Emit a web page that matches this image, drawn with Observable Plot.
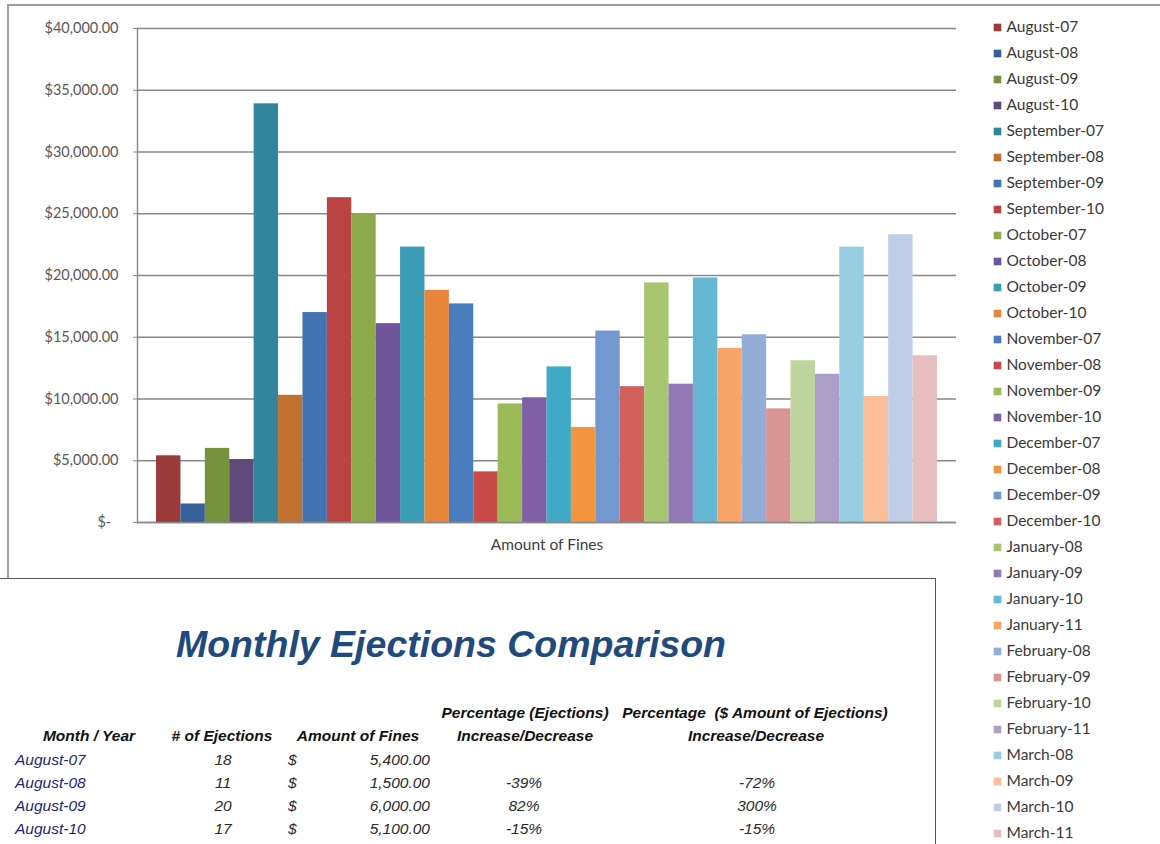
<!DOCTYPE html>
<html><head><meta charset="utf-8">
<script src="https://cdn.jsdelivr.net/npm/d3@7"></script>
<script src="https://cdn.jsdelivr.net/npm/@observablehq/plot@0.6"></script>
<style>
body{margin:0;background:#fff;}
#page{position:relative;width:1160px;height:844px;overflow:hidden;background:#fff;}
#frame{position:absolute;left:7px;top:4px;width:1200px;height:900px;border-left:2px solid #a0a0a0;border-top:2px solid #a0a0a0;box-sizing:border-box;}
#chart{position:absolute;left:0;top:0;}
#legend{position:absolute;left:960px;top:0;}
#table{position:absolute;left:0;top:578px;width:936px;height:300px;background:#fff;border-top:1.5px solid #555;border-right:1.5px solid #555;box-sizing:border-box;font-family:"Liberation Sans",Arial,sans-serif;font-style:italic;}
.c{position:absolute;white-space:nowrap;line-height:1;}
</style></head>
<body>
<div id="page">
  <div id="frame"></div>
  <div id="chart"></div>
  <div id="legend"></div>
  <div id="table"></div>
</div>
<script>
const category = "Amount of Fines";
const months = ["August-07","August-08","August-09","August-10","September-07","September-08","September-09","September-10","October-07","October-08","October-09","October-10","November-07","November-08","November-09","November-10","December-07","December-08","December-09","December-10","January-08","January-09","January-10","January-11","February-08","February-09","February-10","February-11","March-08","March-09","March-10","March-11"];
const fines = [5400,1500,6000,5100,33900,10300,17000,26300,25000,16100,22300,18800,17700,4100,9600,10100,12600,7700,15500,11000,19400,11200,19800,14100,15200,9200,13100,12000,22300,10200,23300,13500];
const colors = ["#9A3B3A","#37609A","#76923C","#5F497A","#31859C","#C0712D","#4073B0","#B94441","#8CAA4A","#71559A","#3B9DB5","#E7863A","#4A7DBE","#C94B47","#9BBB59","#7F5FA5","#3FA9C6","#F59440","#7397CF","#D2615E","#A8C66F","#9279B5","#64B8D4","#F9A569","#95AED8","#D99593","#BDD49D","#ADA0C8","#98CCE0","#FBBE99","#BFCDE7","#E6BEC0"];
const yTicks = [0,5000,10000,15000,20000,25000,30000,35000,40000];

const tableTitle = "Monthly Ejections Comparison";
const tableMonths = ["August-07","August-08","August-09","August-10","September-07"];
const tableEjections = ["18","11","20","17","113"];
const tableFines = ["5,400.00","1,500.00","6,000.00","5,100.00","33,900.00"];
const tablePctEjections = ["","-39%","82%","-15%",""];
const tablePctFines = ["","-72%","300%","-15%",""];

const fmt = d => d === 0 ? "$-\u2002" : "$" + d3.format(",.2f")(d);
const data = months.map((m, i) => ({category, month: m, value: fines[i]}));

const chart = Plot.plot({
  width: 960, height: 578,
  marginLeft: 137, marginRight: 4, marginTop: 28, marginBottom: 56,
  style: {fontFamily: "Lato, 'Open Sans', sans-serif", fontSize: "15.5px", color: "#404040", background: "transparent"},
  fx: {domain: [category], padding: 0, label: null, tickSize: 0, tickPadding: 16},
  x: {domain: months, paddingInner: 0, paddingOuter: 0.78, round: false, axis: null},
  y: {domain: [0, 40000]},
  color: {domain: months, range: colors},
  marks: [
    Plot.gridY(yTicks, {stroke: "#888", strokeOpacity: 1, strokeWidth: 1.4}),
    Plot.barY(data, {fx: "category", x: "month", y: "value", fill: "month"}),
    Plot.ruleY([0], {stroke: "#888", strokeWidth: 1.4}),
    Plot.frame({anchor: "left", stroke: "#888", strokeWidth: 1.4}),
    Plot.axisY(yTicks, {tickFormat: fmt, tickSize: 4, tickPadding: 15, stroke: "#888", fill: "#595959", fontSize: 14.5, label: null})
  ]
});
document.getElementById("chart").appendChild(chart);

const legend = Plot.plot({
  width: 200, height: 846, marginTop: 14, marginBottom: 0, marginLeft: 0, marginRight: 0,
  style: {fontFamily: "Lato, 'Open Sans', sans-serif", background: "transparent"},
  x: {axis: null},
  y: {domain: months, axis: null, padding: 0},
  color: {domain: months, range: colors},
  marks: [
    Plot.dot(months, {y: d => d, frameAnchor: "left", dx: 37, symbol: "square", r: 4.3, fill: d => d}),
    Plot.text(months, {y: d => d, frameAnchor: "left", dx: 46, text: d => d, textAnchor: "start", fill: "#3a3a3a", fontSize: 15.5})
  ]
});
document.getElementById("legend").appendChild(legend);

// table
const T = document.getElementById("table");
const top0 = 578;
function cell(text, x, y, align, css) {
  const el = document.createElement("div");
  el.className = "c";
  el.textContent = text;
  el.style.left = x + "px";
  el.style.top = (y - top0) + "px";
  const tx = align === "center" ? "-50%" : align === "right" ? "-100%" : "0";
  el.style.transform = `translate(${tx},-50%)`;
  Object.assign(el.style, css || {});
  T.appendChild(el);
}
cell(tableTitle, 451, 644, "center", {fontSize: "37.5px", fontWeight: "bold", color: "#1F4A7D"});
const hdr = {fontSize: "15.5px", fontWeight: "bold", color: "#111"};
cell("Month / Year", 89, 735, "center", hdr);
cell("# of Ejections", 222, 735, "center", hdr);
cell("Amount of Fines", 358, 735, "center", hdr);
cell("Percentage (Ejections)", 525, 712, "center", hdr);
cell("Increase/Decrease", 525, 735, "center", hdr);
cell("Percentage  ($ Amount of Ejections)", 755, 712, "center", Object.assign({whiteSpace: "pre"}, hdr));
cell("Increase/Decrease", 756, 735, "center", hdr);
const rowY = [759, 782, 805, 828, 851];
const val = {fontSize: "15.5px", color: "#2a2a2a"};
tableMonths.forEach((m, i) => {
  const y = rowY[i];
  cell(m, 15, y, "left", {fontSize: "15.5px", color: "#1d2670"});
  cell(tableEjections[i], 223, y, "center", val);
  cell("$", 288, y, "left", val);
  cell(tableFines[i], 430, y, "right", val);
  if (tablePctEjections[i]) cell(tablePctEjections[i], 524, y, "center", val);
  if (tablePctFines[i]) cell(tablePctFines[i], 757, y, "center", val);
});
</script>
</body></html>
